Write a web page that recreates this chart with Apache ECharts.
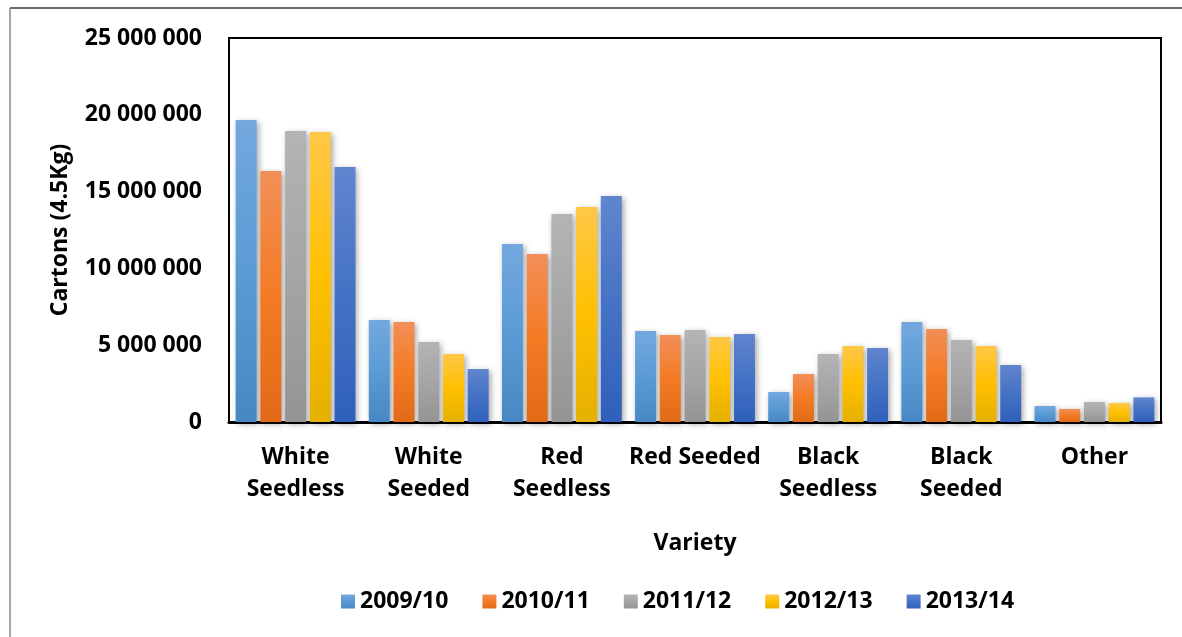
<!DOCTYPE html>
<html>
<head>
<meta charset="utf-8">
<script src="https://cdn.jsdelivr.net/npm/echarts@6/dist/echarts.min.js"></script>
<style>
html,body{margin:0;padding:0;background:#fff;}
#c{width:1182px;height:637px;}
</style>
</head>
<body>
<div id="c"></div>
<script>
const categories = ['White\nSeedless', 'White\nSeeded', 'Red\nSeedless', 'Red Seeded', 'Black\nSeedless', 'Black\nSeeded', 'Other'];
const seriesNames = ['2009/10', '2010/11', '2011/12', '2012/13', '2013/14'];
const s2009 = [19660000, 6640000, 11590000, 5920000, 1950000, 6510000, 1040000];
const s2010 = [16340000, 6510000, 10940000, 5660000, 3120000, 6050000, 850000];
const s2011 = [18950000, 5210000, 13540000, 5990000, 4430000, 5340000, 1300000];
const s2012 = [18880000, 4430000, 14000000, 5530000, 4950000, 4950000, 1240000];
const s2013 = [16600000, 3450000, 14710000, 5730000, 4820000, 3710000, 1600000];
const yTicks = { min: 0, max: 25000000, interval: 5000000 };

const allValues = [s2009, s2010, s2011, s2012, s2013];
const palettes = [
  ['#73a8de', '#5b9bd5', '#4787c3'],
  ['#f28f58', '#f47b24', '#e26a17'],
  ['#b4b4b4', '#a5a5a5', '#949494'],
  ['#ffc748', '#ffc000', '#e5b000'],
  ['#6185cf', '#4472c4', '#2f60bb']
];
function grad(p) {
  return new echarts.graphic.LinearGradient(0, 0, 0, 1, [
    { offset: 0, color: p[0] }, { offset: 0.5, color: p[1] }, { offset: 1, color: p[2] }
  ]);
}
const FONT = '"Open Sans", "Noto Sans", sans-serif';

const chart = echarts.init(document.getElementById('c'), null, { renderer: 'canvas' });
chart.setOption({
  animation: false,
  backgroundColor: '#fff',
  textStyle: { fontFamily: FONT },
  graphic: [
    { type: 'line', shape: { x1: 10, y1: 8, x2: 1182, y2: 8 }, style: { stroke: '#3a3a3a', lineWidth: 1.5 } },
    { type: 'line', shape: { x1: 10, y1: 8, x2: 10, y2: 637 }, style: { stroke: '#8a8a8a', lineWidth: 1.5 } }
  ],
  grid: { left: 229, right: 21, top: 38, bottom: 215, show: true, borderColor: '#000', borderWidth: 2, backgroundColor: 'transparent' },
  legend: {
    data: seriesNames,
    left: 336, top: 585,
    itemWidth: 14, itemHeight: 14, itemGap: 34,
    icon: 'rect',
    textStyle: { fontFamily: FONT, fontSize: 23, fontWeight: 'bold', color: '#000', padding: [0, 0, 0, 0] }
  },
  xAxis: {
    type: 'category',
    data: categories,
    name: 'Variety',
    nameLocation: 'middle',
    nameGap: 121,
    nameTextStyle: { fontFamily: FONT, fontSize: 23, fontWeight: 'bold', color: '#000', verticalAlign: 'middle' },
    axisLine: { lineStyle: { color: '#000', width: 3 } },
    axisTick: { show: false },
    axisLabel: { interval: 0, margin: 19, lineHeight: 32, fontFamily: FONT, fontSize: 23, fontWeight: 'bold', color: '#000' },
    splitLine: { show: false }
  },
  yAxis: {
    type: 'value',
    min: yTicks.min, max: yTicks.max, interval: yTicks.interval,
    name: 'Cartons (4.5Kg)',
    nameLocation: 'middle',
    nameGap: 169,
    nameTextStyle: { fontFamily: FONT, fontSize: 23, fontWeight: 'bold', color: '#000', verticalAlign: 'middle' },
    axisLine: { show: true, lineStyle: { color: '#000', width: 2 } },
    axisTick: { show: false },
    splitLine: { show: false },
    axisLabel: {
      margin: 27, fontFamily: FONT, fontSize: 23, fontWeight: 'bold', color: '#000',
      formatter: v => String(v).replace(/\B(?=(\d{3})+(?!\d))/g, ' ')
    }
  },
  series: seriesNames.map((n, i) => ({
    name: n,
    type: 'bar',
    data: allValues[i],
    barGap: '18%',
    barCategoryGap: '10%',
    itemStyle: {
      color: grad(palettes[i]),
      shadowBlur: 6,
      shadowColor: 'rgba(0,0,0,0.35)',
      shadowOffsetX: 2,
      shadowOffsetY: 2
    }
  }))
});
</script>
</body>
</html>
